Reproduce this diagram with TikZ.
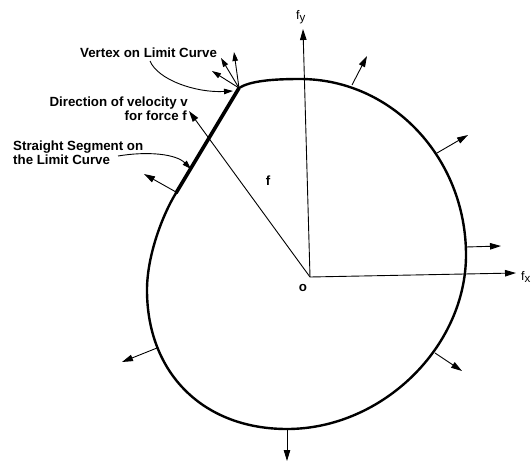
\documentclass[tikz,border=0pt]{standalone}
\usepackage{fontspec}
\setmainfont{Liberation Sans}
\usetikzlibrary{arrows.meta}
\newcommand{\subsc}[1]{\raisebox{-0.45ex}{\fontsize{11.5}{12}\selectfont #1}}
\begin{document}
\begin{tikzpicture}[x=1pt,y=-1pt,
  thinline/.style={line width=0.9pt},
  tipped/.style={-{Triangle[length=11pt,width=6.5pt]}},
  smalltip/.style={-{Triangle[length=9pt,width=5.5pt]}},
  lbl/.style={font=\fontsize{13.3}{15}\selectfont\bfseries, inner sep=0pt},
  axlbl/.style={font=\fontsize{12.5}{14}\selectfont, inner sep=0pt},
  limit/.style={line width=2.4pt, line join=round},
  seg/.style={line width=3.6pt},
]
\useasboundingbox (0,0) rectangle (532,463);

% limit curve
\coordinate (V) at (239,88);
\coordinate (S) at (176,193);
\draw[limit] (V) .. controls (250,81) and (272,79) .. (300,79)
  .. controls (392,79) and (466,158) .. (466,255)
  .. controls (466,347) and (382,429) .. (287,429)
  .. controls (203,429) and (147,373) .. (147,290)
  .. controls (147,255) and (163,214) .. (S) -- (V);
\draw[seg] (S) -- (V);

% axes
\coordinate (O) at (310,277);
\coordinate (Ytip) at (303,29);
\coordinate (Xtip) at (516,273);
\draw[thinline, tipped] (O) -- (Ytip);
\draw[thinline, tipped] (O) -- (Xtip);
\node[axlbl, anchor=base west] (fy) at (296,19) {f\subsc{y}};
\node[axlbl, anchor=base west] (fx) at (521,280) {f\subsc{x}};
\node[lbl, anchor=base] (olabel) at (303,291) {o};

% force vector
\coordinate (F) at (189,111);
\draw[thinline, tipped] (O) -- (F);
\node[lbl, anchor=base] (flabel) at (268,185) {f};

% normals
\foreach \bx/\by/\tx/\ty [count=\i] in {
  352/85/367/56, 437/153/468/135, 466/247/501/246, 435/353/462/371,
  287/430/287/461, 157/348/122/362, 176/192/144/174} {
  \coordinate (nb\i) at (\bx,\by);
  \coordinate (nt\i) at (\tx,\ty);
  \draw[thinline, tipped] (nb\i) -- (nt\i);
}
% vertex cone of normals
\coordinate (va) at (212,71);
\coordinate (vb) at (221,58);
\coordinate (vc) at (234,52);
\draw[thinline, smalltip] (V) -- (va);
\draw[thinline, smalltip] (V) -- (vb);
\draw[thinline, smalltip] (V) -- (vc);

% annotations
\node[lbl, anchor=base west] (vtx) at (80,57) {Vertex on Limit Curve};
\coordinate (vtxstart) at (150,61);
\coordinate (vtxend) at (233,91);
\draw[thinline, smalltip] (vtxstart) .. controls (158,80) and (196,93) .. (vtxend);

\node[lbl, anchor=base east] (dir1) at (188,106) {Direction of velocity v};
\node[lbl, anchor=base east] (dir2) at (187,120) {for force f};

\node[lbl, anchor=base west] (str1) at (13,150) {Straight Segment on};
\node[lbl, anchor=base west] (str2) at (13,164) {the Limit Curve};
\coordinate (strstart) at (118,156);
\coordinate (strend) at (191,169);
\draw[thinline, smalltip] (strstart) .. controls (148,151) and (176,154) .. (strend);
\end{tikzpicture}
\end{document}
